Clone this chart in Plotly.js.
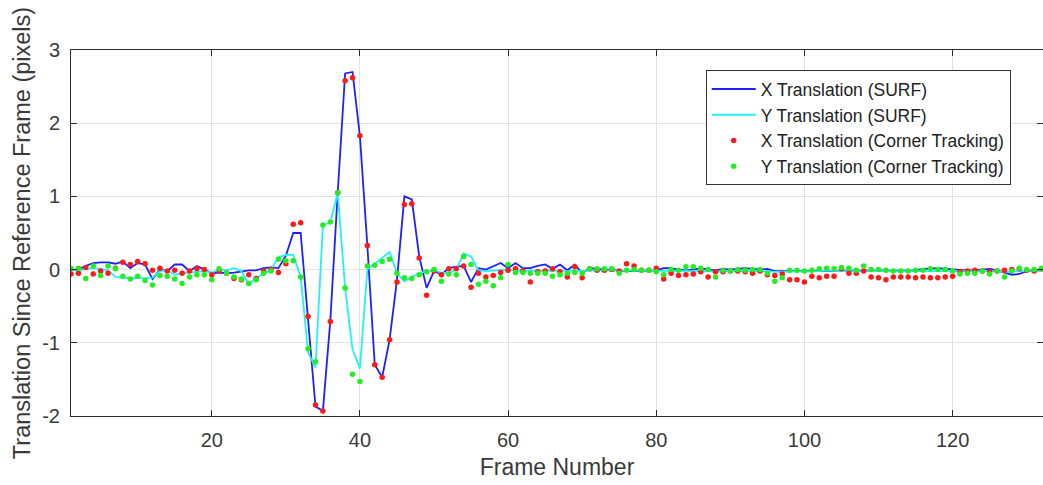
<!DOCTYPE html>
<html>
<head>
<meta charset="utf-8">
<script src="https://cdn.plot.ly/plotly-3.0.1.min.js"></script>
<style>html,body{margin:0;padding:0;background:#fff;}#chart{width:1043px;height:485px;}</style>
</head>
<body>
<div id="chart"></div>
<script>
// Frame numbers (1..132)
const frames = [];
for (let i = 1; i <= 132; i++) frames.push(i);

// X Translation (SURF)
const xSurf = [
-0.01,0.00,0.05,0.09,0.10,0.10,0.08,0.11,0.02,0.09,
0.07,-0.13,0.00,-0.02,0.07,0.07,-0.02,0.05,0.00,-0.05,
-0.04,-0.05,-0.04,-0.02,-0.01,-0.01,0.02,0.03,0.02,0.19,
0.50,0.50,-0.64,-1.87,-1.93,-0.70,1.05,2.68,2.70,1.82,
0.33,-1.30,-1.47,-0.96,-0.14,1.00,0.96,0.18,-0.25,-0.02,
-0.07,0.02,0.04,0.05,-0.17,0.02,0.00,0.05,0.09,0.02,
0.09,0.02,0.02,0.05,0.07,0.01,0.07,-0.01,0.07,-0.05,
0.02,0.01,0.00,0.00,-0.01,-0.02,-0.02,-0.02,-0.02,-0.01,
0.02,0.02,0.00,-0.01,0.00,0.02,0.00,-0.01,0.01,0.00,
0.01,0.02,0.01,0.00,0.01,-0.02,-0.02,-0.02,-0.01,-0.01,
-0.01,-0.02,-0.01,-0.01,-0.01,-0.02,-0.02,-0.01,-0.01,-0.02,
-0.02,-0.01,-0.01,-0.02,-0.01,0.01,0.02,0.02,0.01,0.00,
-0.01,-0.01,-0.01,0.00,0.01,-0.01,-0.04,-0.07,-0.06,-0.02,
-0.01,0.00];

// Y Translation (SURF)
const ySurf = [
0.00,-0.01,0.01,0.02,0.01,-0.01,-0.10,-0.11,-0.12,-0.11,
-0.12,-0.11,-0.02,-0.01,-0.07,-0.05,-0.04,-0.02,-0.02,-0.04,
0.00,-0.01,0.02,-0.02,-0.20,-0.11,-0.05,0.00,0.17,0.20,
0.20,-0.10,-1.13,-1.34,0.61,0.64,1.05,-0.25,-1.09,-1.35,
0.00,0.08,0.16,0.24,-0.05,-0.16,-0.10,-0.05,-0.02,-0.01,
-0.04,-0.05,0.00,0.22,0.18,-0.01,-0.02,-0.01,-0.01,0.00,
-0.01,-0.02,-0.01,-0.02,-0.01,-0.02,-0.01,-0.02,-0.01,-0.02,
-0.01,-0.01,-0.02,-0.01,-0.02,-0.02,-0.01,-0.02,-0.02,-0.02,
-0.02,-0.01,-0.02,-0.02,-0.01,-0.02,-0.02,-0.03,-0.02,-0.02,
-0.02,-0.02,-0.01,-0.02,-0.02,-0.03,-0.03,-0.02,-0.02,-0.02,
-0.02,-0.02,-0.01,-0.02,-0.02,-0.02,-0.02,-0.02,-0.02,-0.02,
-0.02,-0.02,-0.02,-0.02,-0.02,-0.02,-0.01,-0.01,-0.02,-0.02,
-0.02,-0.02,-0.02,-0.02,-0.02,-0.02,-0.03,-0.02,-0.02,-0.02,
-0.02,-0.02];

// X Translation (Corner Tracking)
const xCorner = [
-0.06,-0.05,0.03,-0.06,-0.02,-0.05,0.02,0.10,0.07,0.11,
0.08,-0.01,0.02,-0.02,-0.01,-0.05,-0.02,0.01,0.00,-0.07,
-0.02,-0.05,-0.12,-0.14,-0.07,-0.12,-0.02,0.00,-0.04,0.08,
0.62,0.64,-0.64,-1.85,-1.93,-0.71,1.05,2.58,2.62,1.83,
0.33,-1.30,-1.47,-0.96,-0.17,0.89,0.90,0.16,-0.35,-0.02,
-0.07,0.01,0.01,0.05,-0.24,-0.05,-0.10,-0.08,-0.04,-0.01,
0.01,-0.02,-0.17,-0.03,-0.02,0.01,-0.03,-0.10,0.04,-0.11,
0.01,-0.01,-0.01,0.00,-0.02,0.08,0.05,-0.01,-0.01,0.02,
-0.13,-0.05,-0.08,-0.07,-0.06,-0.03,-0.10,-0.03,-0.03,-0.02,
-0.02,-0.03,-0.05,-0.02,-0.07,-0.08,-0.06,-0.14,-0.14,-0.17,
-0.09,-0.11,-0.09,-0.09,0.01,-0.05,-0.05,-0.02,-0.10,-0.11,
-0.14,-0.10,-0.10,-0.10,-0.11,-0.10,-0.11,-0.11,-0.10,-0.09,
-0.03,-0.02,-0.01,-0.02,-0.03,-0.02,-0.01,0.00,0.01,-0.01,
-0.02,0.01];

// Y Translation (Corner Tracking)
const yCorner = [
0.02,0.02,-0.12,0.05,-0.08,0.05,0.01,-0.09,-0.13,-0.09,
-0.15,-0.21,-0.08,-0.09,-0.13,-0.19,-0.10,-0.07,-0.07,-0.14,
0.01,-0.05,-0.10,-0.13,-0.19,-0.14,-0.05,-0.02,0.14,0.12,
0.12,-0.10,-1.08,-1.26,0.61,0.65,1.05,-0.25,-1.43,-1.53,
0.05,0.06,0.11,0.14,-0.05,-0.11,-0.12,-0.07,-0.03,0.00,
-0.16,-0.06,-0.07,0.18,0.07,-0.20,-0.16,-0.22,-0.11,0.07,
-0.04,-0.04,-0.05,-0.05,-0.05,-0.09,-0.07,-0.05,-0.04,-0.05,
0.01,0.01,0.01,0.01,-0.05,-0.01,0.00,-0.01,-0.01,-0.03,
-0.07,0.00,-0.01,0.04,0.04,0.02,0.00,-0.10,-0.01,-0.02,
0.00,-0.01,0.00,0.00,-0.05,-0.16,-0.11,-0.01,-0.01,-0.02,
-0.01,0.01,0.02,0.01,0.03,0.02,-0.01,0.05,0.00,0.00,
-0.01,-0.02,-0.02,-0.02,-0.01,-0.01,0.01,0.00,0.00,-0.02,
-0.06,-0.05,-0.05,-0.02,-0.06,-0.02,-0.10,-0.02,0.02,0.00,
0.00,0.02];

const xTicks = [20, 40, 60, 80, 100, 120];
const yTicks = [-2, -1, 0, 1, 2, 3];
const seriesNames = ['X Translation (SURF)', 'Y Translation (SURF)', 'X Translation (Corner Tracking)', 'Y Translation (Corner Tracking)'];

const font = 'Liberation Sans, Arial, Helvetica, sans-serif';

const traces = [
  {x: frames, y: xSurf, name: seriesNames[0], mode: 'lines', line: {color: '#1f1fff', width: 1.8}},
  {x: frames, y: ySurf, name: seriesNames[1], mode: 'lines', line: {color: '#22f0ff', width: 1.8}},
  {x: frames, y: xCorner, name: seriesNames[2], mode: 'markers', marker: {color: '#ff1a1a', size: 5.5}},
  {x: frames, y: yCorner, name: seriesNames[3], mode: 'markers', marker: {color: '#22ee22', size: 5.5}}
];

const axisCommon = {
  showline: true, mirror: 'ticks', linecolor: '#2b2b2b', linewidth: 1,
  ticks: 'inside', ticklen: 6, tickcolor: '#2b2b2b',
  showgrid: true, gridcolor: '#e2e2e2', gridwidth: 1,
  zeroline: false,
  tickfont: {family: font, size: 20, color: '#3a3a3a'}
};

const layout = {
  width: 1043, height: 485,
  margin: {l: 71, r: 0, t: 50, b: 69},
  paper_bgcolor: '#ffffff', plot_bgcolor: '#ffffff',
  showlegend: true,
  xaxis: Object.assign({}, axisCommon, {
    range: [1, 132.2], tickvals: xTicks, ticktext: xTicks.map(String),
    ticklabelstandoff: 6,
    title: {text: 'Frame Number', font: {family: font, size: 23, color: '#3a3a3a'}, standoff: 8}
  }),
  yaxis: Object.assign({}, axisCommon, {
    range: [-2, 3], tickvals: yTicks, ticktext: yTicks.map(String),
    ticklabelstandoff: 6,
    title: {text: 'Translation Since Reference Frame (pixels)', font: {family: font, size: 23.5, color: '#3a3a3a'}, standoff: 4}
  }),
  legend: {
    x: 0.653, y: 0.945, xanchor: 'left', yanchor: 'top',
    bgcolor: '#ffffff', bordercolor: '#333333', borderwidth: 1,
    font: {family: font, size: 17.5, color: '#222222'},
    itemwidth: 44, tracegroupgap: 0
  }
};

Plotly.newPlot('chart', traces, layout, {displayModeBar: false, staticPlot: true});
</script>
</body>
</html>
